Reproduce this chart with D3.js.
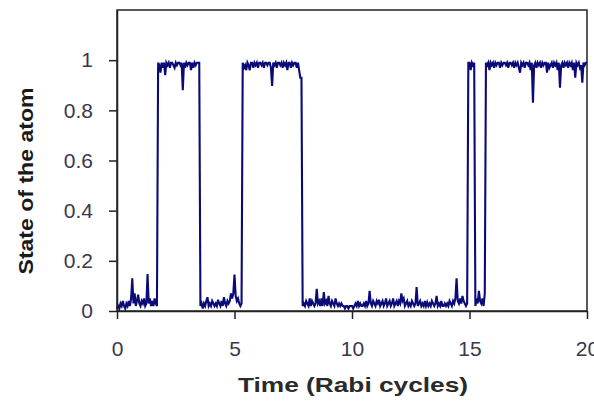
<!DOCTYPE html>
<html>
<head>
<meta charset="utf-8">
<script src="https://cdn.jsdelivr.net/npm/d3@7"></script>
<style>
  html, body { margin: 0; padding: 0; background: #ffffff; }
  svg { display: block; }
</style>
</head>
<body>
<svg id="chart" width="594" height="407"></svg>
<script>
// ---- data ----
const xTicks = [0, 5, 10, 15, 20];
const yTicks = [0, 0.2, 0.4, 0.6, 0.8, 1];
const xTickLabels = ["0", "5", "10", "15", "20"];
const yTickLabels = ["0", "0.2", "0.4", "0.6", "0.8", "1"];
const xTitle = "Time (Rabi cycles)";
const yTitle = "State of the atom";
const sampleStep = 0.05; // Rabi cycles between successive samples
// state of the atom, one sample every 0.05 Rabi cycles, from t = 0 to t = 20
const state = [
  // 0.00 - 0.95
  0.01,0.02,0.01,0.03,0.02,0.04,0.02,0.01,0.03,0.02,
  0.04,0.02,0.05,0.13,0.03,0.07,0.02,0.04,0.065,0.03,
  // 1.00 - 1.95
  0.02,0.04,0.03,0.05,0.02,0.03,0.147,0.03,0.05,0.02,
  0.04,0.02,0.05,0.03,0.02,0.99,0.98,0.95,0.99,0.97,
  // 2.00 - 2.95
  0.99,0.94,0.99,0.98,0.99,0.97,0.99,0.99,0.98,0.97,
  0.99,0.98,0.99,0.99,0.98,0.99,0.88,0.99,0.97,0.99,
  // 3.00 - 3.95
  0.98,0.99,0.99,0.96,0.99,0.97,0.99,0.98,0.99,0.99,
  0.99,0.02,0.03,0.01,0.03,0.02,0.04,0.055,0.02,0.03,
  // 4.00 - 4.95
  0.02,0.04,0.03,0.02,0.03,0.02,0.045,0.03,0.02,0.04,
  0.02,0.055,0.03,0.02,0.04,0.03,0.04,0.07,0.05,0.07,
  // 5.00 - 5.95
  0.145,0.06,0.04,0.05,0.03,0.02,0.03,0.99,0.97,0.98,
  0.96,0.99,0.98,0.96,0.99,0.99,0.97,0.99,0.98,0.99,
  // 6.00 - 6.95
  0.97,0.99,0.99,0.98,0.99,0.97,0.99,0.99,0.98,0.99,
  0.99,0.97,0.897,0.99,0.98,0.99,0.97,0.99,0.99,0.98,
  // 7.00 - 7.95
  0.99,0.97,0.99,0.98,0.99,0.96,0.99,0.99,0.97,0.99,
  0.98,0.99,0.99,0.97,0.99,0.96,0.93,0.93,0.02,0.03,
  // 8.00 - 8.95
  0.02,0.04,0.03,0.02,0.05,0.02,0.04,0.03,0.02,0.03,
  0.088,0.03,0.04,0.02,0.05,0.02,0.075,0.03,0.04,0.02,
  // 9.00 - 9.95
  0.06,0.03,0.02,0.04,0.03,0.02,0.05,0.03,0.02,0.03,
  0.02,0.03,0.02,0.02,0.01,0.02,0.02,0.01,0.02,0.02,
  // 10.00 - 10.95
  0.02,0.01,0.02,0.03,0.02,0.04,0.02,0.03,0.02,0.02,
  0.03,0.02,0.04,0.02,0.03,0.08,0.03,0.02,0.04,0.03,
  // 11.00 - 11.95
  0.02,0.04,0.03,0.045,0.02,0.03,0.04,0.02,0.03,0.05,
  0.02,0.03,0.04,0.02,0.03,0.05,0.02,0.03,0.04,0.02,
  // 12.00 - 12.95
  0.04,0.03,0.07,0.04,0.05,0.02,0.03,0.04,0.02,0.03,
  0.02,0.04,0.03,0.02,0.03,0.095,0.02,0.03,0.04,0.02,
  // 13.00 - 13.95
  0.03,0.02,0.04,0.02,0.035,0.02,0.03,0.02,0.04,0.03,
  0.02,0.03,0.06,0.02,0.03,0.02,0.04,0.02,0.02,0.03,
  // 14.00 - 14.95
  0.02,0.03,0.02,0.04,0.03,0.02,0.04,0.03,0.05,0.13,
  0.04,0.03,0.05,0.03,0.06,0.04,0.03,0.02,0.03,0.99,
  // 15.00 - 15.95
  0.99,0.96,0.99,0.98,0.99,0.02,0.05,0.03,0.08,0.04,
  0.03,0.05,0.02,0.07,0.99,0.98,0.99,0.96,0.99,0.98,
  // 16.00 - 16.95
  0.99,0.97,0.99,0.98,0.99,0.99,0.97,0.99,0.98,0.99,
  0.99,0.98,0.99,0.97,0.99,0.99,0.98,0.99,0.97,0.99,
  // 17.00 - 17.95
  0.98,0.99,0.97,0.95,0.99,0.98,0.99,0.97,0.99,0.99,
  0.98,0.99,0.96,0.99,0.83,0.98,0.99,0.97,0.99,0.98,
  // 18.00 - 18.95
  0.99,0.97,0.99,0.98,0.99,0.99,0.95,0.99,0.97,0.98,
  0.99,0.97,0.99,0.98,0.99,0.96,0.99,0.89,0.98,0.99,
  // 19.00 - 19.95
  0.97,0.99,0.98,0.99,0.97,0.99,0.98,0.99,0.96,0.99,
  0.93,0.99,0.98,0.99,0.97,0.98,0.91,0.99,0.98,0.99,
  // 20.00
  0.99
];

// ---- layout ----
const plotLeft = 117, plotRight = 587, plotTop = 10, plotBottom = 311;
const svg = d3.select("#chart");

const x = d3.scaleLinear().domain([0, 20]).range([plotLeft, plotRight]);
const y = d3.scaleLinear().domain([0, 1.2]).range([plotBottom, plotTop]);

// plot frame (top & right)
svg.append("rect")
  .attr("x", plotLeft).attr("y", plotTop)
  .attr("width", plotRight - plotLeft).attr("height", plotBottom - plotTop)
  .attr("fill", "none").attr("stroke", "#222").attr("stroke-width", 1.5);

// trace
const line = d3.line()
  .x((d, i) => x(i * sampleStep))
  .y(d => y(d));
svg.append("path")
  .datum(state)
  .attr("d", line)
  .attr("fill", "none")
  .attr("stroke", "#0b0b78")
  .attr("stroke-width", 2.1)
  .attr("stroke-linejoin", "miter");

// axes
const xAxis = d3.axisBottom(x)
  .tickValues(xTicks)
  .tickFormat((d, i) => xTickLabels[i])
  .tickSizeInner(8).tickSizeOuter(0).tickPadding(22);
const yAxis = d3.axisLeft(y)
  .tickValues(yTicks)
  .tickFormat((d, i) => yTickLabels[i])
  .tickSizeInner(8).tickSizeOuter(0).tickPadding(16);

const gx = svg.append("g").attr("transform", `translate(0,${plotBottom})`).call(xAxis);
const gy = svg.append("g").attr("transform", `translate(${plotLeft},0)`).call(yAxis);

[gx, gy].forEach(g => {
  g.select(".domain").attr("stroke", "#222").attr("stroke-width", 1.5);
  g.selectAll(".tick line").attr("stroke", "#222").attr("stroke-width", 1.5);
  g.selectAll(".tick text")
    .attr("fill", "#3a3650")
    .style("font-family", "'Liberation Sans', Arial, sans-serif")
    .style("font-size", "21px");
});

// titles
svg.append("text")
  .attr("x", 353).attr("y", 392)
  .attr("text-anchor", "middle")
  .attr("textLength", 230).attr("lengthAdjust", "spacingAndGlyphs")
  .style("font-family", "'Liberation Sans', Arial, sans-serif")
  .style("font-weight", "bold").style("font-size", "21px")
  .attr("fill", "#2a2a2a")
  .text(xTitle);

svg.append("text")
  .attr("transform", "translate(33,181) rotate(-90)")
  .attr("text-anchor", "middle")
  .attr("textLength", 187).attr("lengthAdjust", "spacingAndGlyphs")
  .style("font-family", "'Liberation Sans', Arial, sans-serif")
  .style("font-weight", "bold").style("font-size", "21px")
  .attr("fill", "#1a1a1a")
  .text(yTitle);
</script>
</body>
</html>
